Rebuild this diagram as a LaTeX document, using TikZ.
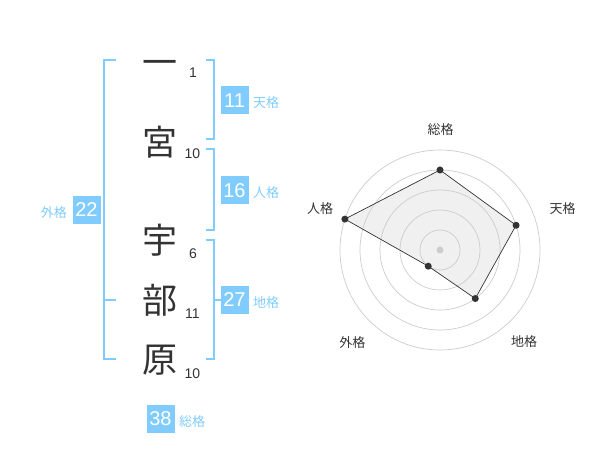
\documentclass[tikz,border=0pt]{standalone}
\usepackage{fontspec}
\setmainfont{Liberation Sans}
\newfontfamily\cjk{Noto Sans CJK JP}
\definecolor{kblue}{RGB}{128,204,255}
\definecolor{kdark}{RGB}{51,51,51}
\definecolor{kgrid}{RGB}{204,204,204}
\definecolor{kfill}{RGB}{240,240,240}
\begin{document}
\begin{tikzpicture}[x=1pt,y=-1pt,
  kanji/.style={font=\cjk\fontsize{35}{35}\selectfont, text=kdark, inner sep=0pt},
  stroke/.style={font=\fontsize{14}{14}\selectfont, text=kdark, inner sep=0pt},
  valbox/.style={fill=kblue, text=white, minimum width=28pt, minimum height=28pt, inner sep=0pt, font=\fontsize{20}{20}\selectfont},
  kaku/.style={font=\cjk\fontsize{13}{13}\selectfont, text=kblue, inner sep=0pt},
  brk/.style={draw=kblue, line width=2pt},
  axlabel/.style={font=\cjk\fontsize{13}{13}\selectfont, text=kdark, inner sep=0pt},
  ring/.style={draw=kgrid, line width=0.7pt},
  dot/.style={circle, fill=kdark, minimum size=7pt, inner sep=0pt}]
\useasboundingbox (0,0) rectangle (600,470);
% characters
\node[kanji] (c1) at (160,68) {一};
\node[kanji] (c2) at (160,142) {宮};
\node[kanji] (c3) at (160,240) {宇};
\node[kanji] (c4) at (160,300) {部};
\node[kanji] (c5) at (160,360) {原};
% stroke counts
\node[stroke] (n1) at (193,73) {1};
\node[stroke] (n2) at (192.5,153.5) {10};
\node[stroke] (n3) at (193,253.5) {6};
\node[stroke] (n4) at (192.5,313.5) {11};
\node[stroke] (n5) at (192.5,373.5) {10};
% brackets
\draw[brk] (205.7,60) -- (214.3,60) -- (214.3,139.3) -- (205.7,139.3);
\draw[brk] (205.7,149.3) -- (214.3,149.3) -- (214.3,230) -- (205.7,230);
\draw[brk] (205.7,240) -- (214.3,240) -- (214.3,359.3) -- (205.7,359.3);
\draw[brk] (214.3,300) -- (222,300);
\draw[brk] (115.7,60) -- (104.3,60) -- (104.3,359.3) -- (115.7,359.3);
\draw[brk] (104.3,300) -- (115.7,300);
% value boxes
\node[valbox] (ten) at (234.5,100.5) {11};
\node[kaku, anchor=west] (tenl) at (253,103) {天格};
\node[valbox] (jin) at (234.5,190.5) {16};
\node[kaku, anchor=west] (jinl) at (253,193) {人格};
\node[valbox] (chi) at (234.5,300) {27};
\node[kaku, anchor=west] (chil) at (253,303) {地格};
\node[valbox] (gai) at (86.5,210) {22};
\node[kaku, anchor=east] (gail) at (67,213) {外格};
\node[valbox] (sou) at (160.5,419) {38};
\node[kaku, anchor=west] (soul) at (179,422) {総格};
% radar
\begin{scope}[shift={(440,250)}]
  \coordinate (ps) at (-90:80);
  \coordinate (pt) at (-18:80);
  \coordinate (pc) at (54:60);
  \coordinate (pg) at (126:20);
  \coordinate (pj) at (198:100);
  \fill[kfill] (ps) -- (pt) -- (pc) -- (pg) -- (pj) -- cycle;
  \foreach \r in {20,40,60,80,100} \draw[ring] (0,0) circle (\r);
  \fill[kgrid] (0,0) circle (3.5);
  \draw[draw=kdark, line width=0.7pt] (ps) -- (pt) -- (pc) -- (pg) -- (pj) -- cycle;
  \foreach \p in {ps,pt,pc,pg,pj} \node[dot] at (\p) {};
\end{scope}
\node[axlabel] (ls) at (440.7,130) {総格};
\node[axlabel] (lt) at (562.7,208.3) {天格};
\node[axlabel] (lj) at (320,209) {人格};
\node[axlabel] (lc) at (524,341.7) {地格};
\node[axlabel] (lg) at (352.3,342.3) {外格};
\end{tikzpicture}
\end{document}
